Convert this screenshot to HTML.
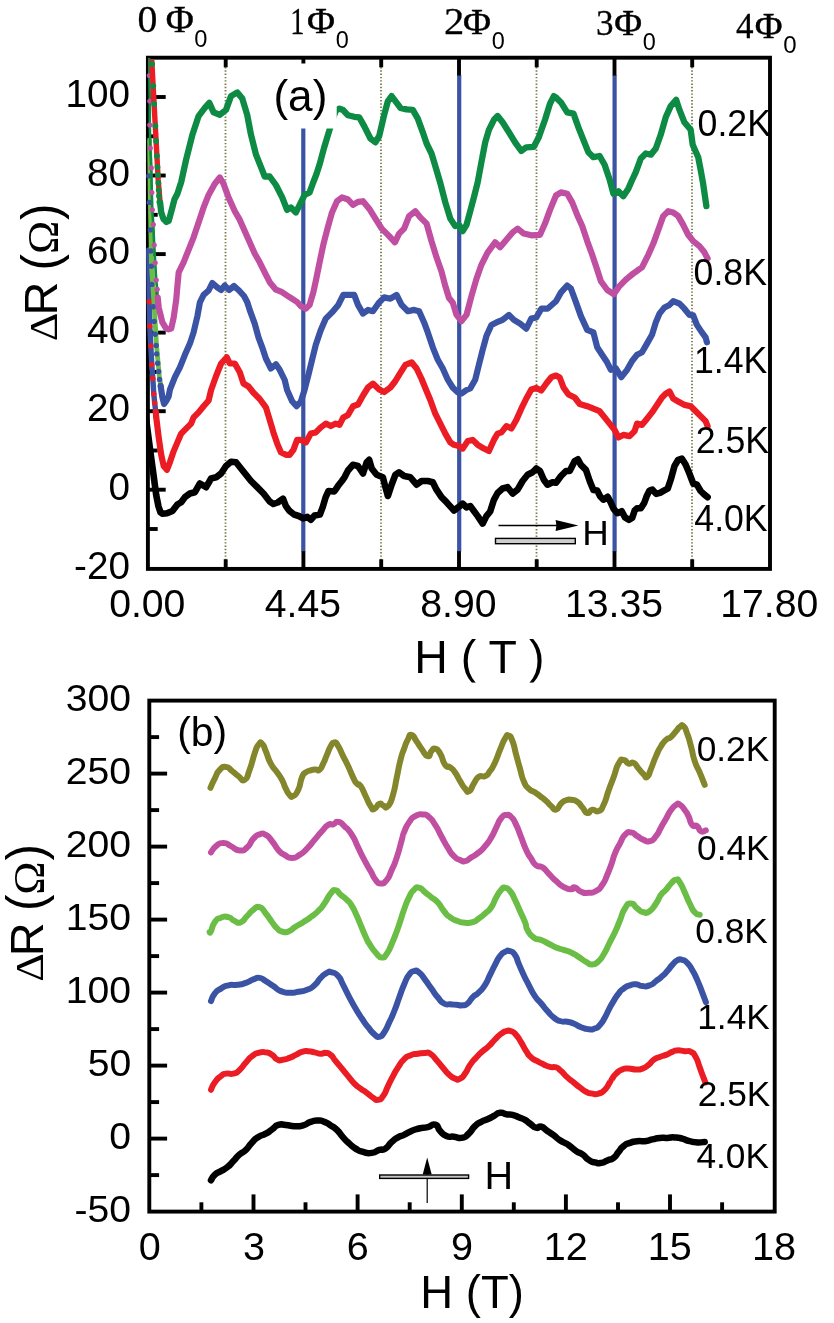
<!DOCTYPE html>
<html><head><meta charset="utf-8"><title>Magnetoresistance oscillations</title>
<style>html,body{margin:0;padding:0;background:#fff;width:834px;height:1323px;overflow:hidden;}svg{display:block;will-change:transform;}text{font-family:"Liberation Sans",sans-serif;fill:#000;}.se{font-family:"Liberation Serif",serif;}.sd{font-family:"Liberation Serif",serif;stroke:#000;stroke-width:0.3;}.ph{font-family:"Liberation Serif",serif;stroke:#000;stroke-width:0.45;}.cv{fill:none;stroke-linejoin:round;stroke-linecap:round;}.ax{stroke:#000;fill:none;}</style></head><body>
<svg width="834" height="1323" viewBox="0 0 834 1323">
<g stroke="#7a7a4c" stroke-width="1.8" stroke-dasharray="1.4 1.9" fill="none">
<line x1="225.5" y1="67" x2="225.5" y2="560"/>
<line x1="381.0" y1="67" x2="381.0" y2="560"/>
<line x1="536.5" y1="67" x2="536.5" y2="560"/>
<line x1="692.0" y1="67" x2="692.0" y2="560"/>
</g>
<g stroke="#3a53a4" stroke-width="4.2">
<line x1="303.3" y1="75" x2="303.3" y2="551.5"/>
<line x1="459.2" y1="75" x2="459.2" y2="551.5"/>
<line x1="614.6" y1="75" x2="614.6" y2="551.5"/>
</g>
<g class="ax" stroke-width="3.9" stroke-linecap="butt">
<rect x="147.9" y="57.7" width="622.1" height="511.2"/>
<line x1="303.4" y1="57.7" x2="303.4" y2="75.5" stroke-width="3.9"/>
<line x1="303.4" y1="568.9" x2="303.4" y2="551.1" stroke-width="3.9"/>
<line x1="459.0" y1="57.7" x2="459.0" y2="75.5" stroke-width="3.9"/>
<line x1="459.0" y1="568.9" x2="459.0" y2="551.1" stroke-width="3.9"/>
<line x1="614.5" y1="57.7" x2="614.5" y2="75.5" stroke-width="3.9"/>
<line x1="614.5" y1="568.9" x2="614.5" y2="551.1" stroke-width="3.9"/>
<line x1="225.7" y1="57.7" x2="225.7" y2="67.3" stroke-width="3.9"/>
<line x1="225.7" y1="568.9" x2="225.7" y2="559.3" stroke-width="3.9"/>
<line x1="381.2" y1="57.7" x2="381.2" y2="67.3" stroke-width="3.9"/>
<line x1="381.2" y1="568.9" x2="381.2" y2="559.3" stroke-width="3.9"/>
<line x1="536.7" y1="57.7" x2="536.7" y2="67.3" stroke-width="3.9"/>
<line x1="536.7" y1="568.9" x2="536.7" y2="559.3" stroke-width="3.9"/>
<line x1="692.2" y1="57.7" x2="692.2" y2="67.3" stroke-width="3.9"/>
<line x1="692.2" y1="568.9" x2="692.2" y2="559.3" stroke-width="3.9"/>
<line x1="147.9" y1="529.0" x2="157.70000000000002" y2="529.0" stroke-width="3.9"/>
<line x1="147.9" y1="489.7" x2="165.70000000000002" y2="489.7" stroke-width="3.9"/>
<line x1="147.9" y1="450.5" x2="157.70000000000002" y2="450.5" stroke-width="3.9"/>
<line x1="147.9" y1="411.2" x2="165.70000000000002" y2="411.2" stroke-width="3.9"/>
<line x1="147.9" y1="371.9" x2="157.70000000000002" y2="371.9" stroke-width="3.9"/>
<line x1="147.9" y1="332.6" x2="165.70000000000002" y2="332.6" stroke-width="3.9"/>
<line x1="147.9" y1="293.4" x2="157.70000000000002" y2="293.4" stroke-width="3.9"/>
<line x1="147.9" y1="254.1" x2="165.70000000000002" y2="254.1" stroke-width="3.9"/>
<line x1="147.9" y1="214.8" x2="157.70000000000002" y2="214.8" stroke-width="3.9"/>
<line x1="147.9" y1="175.5" x2="165.70000000000002" y2="175.5" stroke-width="3.9"/>
<line x1="147.9" y1="136.3" x2="157.70000000000002" y2="136.3" stroke-width="3.9"/>
<line x1="147.9" y1="97.0" x2="165.70000000000002" y2="97.0" stroke-width="3.9"/>
</g>
<clipPath id="cpa"><rect x="146.1" y="55.9" width="625.8" height="515"/></clipPath><g clip-path="url(#cpa)">
<polyline class="cv" stroke="#000" stroke-width="6.6" points="143.5,400.0 145.0,411.0 147.5,430.0 150.8,455.0 153.4,474.0 156.2,495.0 158.5,506.5 160.5,512.3 162.6,513.8 167.0,513.3 172.4,511.0 177.4,504.5 181.2,502.2 184.9,497.2 189.9,493.5 194.9,492.2 199.9,483.5 206.1,487.2 211.1,478.5 216.1,477.3 221.1,473.5 226.0,466.0 231.0,461.8 236.0,462.3 241.0,468.5 246.0,474.8 251.0,481.0 257.2,487.2 263.5,493.5 269.7,501.5 273.4,504.0 277.7,502.5 283.0,498.7 285.8,505.9 289.2,510.7 294.0,514.5 298.8,516.0 303.1,518.4 307.4,516.9 310.8,519.8 314.6,515.5 319.9,514.5 322.8,506.9 325.6,497.3 328.5,491.0 334.3,491.5 338.1,485.8 341.9,481.0 344.5,477.3 348.0,470.5 353.0,464.8 358.0,466.0 363.0,473.5 366.7,462.3 369.2,459.8 371.7,468.5 376.7,474.8 382.9,477.3 385.4,487.2 387.9,496.0 391.6,484.7 395.4,474.8 399.1,472.3 404.1,476.0 410.4,477.3 416.6,484.7 421.6,481.0 427.8,481.0 432.8,482.2 436.5,489.7 441.5,497.2 446.5,502.2 449.0,504.9 454.0,510.5 459.0,506.7 462.7,503.6 466.5,507.3 470.2,506.0 473.9,511.0 477.7,516.1 482.7,523.6 486.4,516.1 490.2,511.5 493.9,499.8 497.6,493.0 502.6,488.5 507.6,487.2 512.6,493.5 517.6,489.7 522.6,481.0 527.6,474.8 532.6,472.3 536.3,468.5 540.0,471.0 543.8,479.8 547.5,484.7 552.5,482.2 556.0,482.8 561.0,476.0 566.0,471.0 569.7,471.0 574.7,461.1 577.9,459.3 580.9,464.8 585.9,469.8 589.7,481.0 593.4,490.1 597.2,490.6 600.1,496.3 603.4,499.7 607.7,496.8 610.6,502.1 613.5,508.8 617.3,513.1 621.7,511.2 625.0,517.4 628.8,519.8 632.2,517.9 634.6,510.7 637.0,508.3 640.8,508.3 644.2,503.0 646.6,496.3 649.5,490.6 652.4,489.6 656.2,493.9 660.0,492.9 663.9,490.6 667.7,488.6 670.7,479.8 674.5,466.0 678.2,459.8 681.9,458.6 685.7,464.8 689.4,473.5 693.2,483.5 696.9,484.7 700.6,491.0 704.4,494.7 707.6,497.2"/>
<polyline class="cv" stroke="#3a53a4" stroke-width="5.4" points="148.8,250.0 149.3,301.8 149.8,326.3 150.8,346.0 151.8,364.7 152.8,378.4 153.8,394.1 154.7,403.0 155.7,411.8 156.2,417.0"/>
<circle cx="149.3" cy="301.8" r="2.7" fill="#ec1c24"/>
<circle cx="149.8" cy="326.3" r="2.7" fill="#ec1c24"/>
<circle cx="150.8" cy="346" r="2.7" fill="#ec1c24"/>
<circle cx="151.8" cy="364.7" r="2.7" fill="#ec1c24"/>
<circle cx="152.8" cy="378.4" r="2.7" fill="#ec1c24"/>
<circle cx="153.8" cy="394.1" r="2.7" fill="#ec1c24"/>
<circle cx="154.7" cy="403" r="2.7" fill="#ec1c24"/>
<circle cx="155.7" cy="411.8" r="2.7" fill="#ec1c24"/>
<circle cx="156.2" cy="417" r="2.7" fill="#ec1c24"/>
<polyline class="cv" stroke="#ec1c24" stroke-width="6.2" points="155.7,411.8 156.2,417.0 158.7,437.4 161.2,454.8 163.7,466.0 166.9,469.8 169.9,462.3 173.7,451.1 177.4,442.4 181.2,433.6 186.1,428.6 191.1,423.6 193.6,417.4 198.6,412.4 203.6,406.2 208.6,400.5 211.1,390.0 216.1,376.0 221.1,363.5 226.8,357.3 229.8,363.5 234.8,363.5 239.8,372.3 243.5,383.5 248.5,386.5 253.5,392.8 259.7,399.0 265.9,407.4 269.7,419.9 273.4,432.4 277.2,443.6 280.9,452.3 285.9,454.8 289.6,454.8 293.4,449.8 297.1,439.9 300.9,439.9 305.9,442.4 310.8,433.6 315.8,432.4 320.8,427.4 325.8,423.6 330.8,426.1 335.8,423.6 339.5,424.9 343.3,417.4 348.0,414.9 353.0,406.2 358.0,404.5 363.0,395.5 368.0,387.5 372.9,383.6 379.2,389.5 384.2,392.0 390.4,387.5 395.4,381.0 399.1,374.8 405.4,364.8 411.6,362.3 416.6,368.5 421.6,379.0 425.3,388.0 430.3,400.0 435.3,413.7 440.3,423.6 445.3,433.6 450.3,442.4 454.0,444.8 459.0,446.1 462.7,448.6 467.7,441.1 472.7,439.9 477.7,444.8 483.9,448.6 488.9,451.1 493.9,439.9 497.6,433.6 501.4,432.4 506.4,426.1 511.4,428.6 516.3,419.9 521.3,408.7 526.3,398.5 531.3,389.5 536.3,388.0 541.3,390.5 546.3,383.5 551.3,377.2 556.0,375.5 559.7,377.5 563.5,387.5 568.5,394.5 574.7,397.5 579.7,404.0 587.2,406.2 593.4,408.7 599.6,411.2 604.6,417.4 609.6,423.6 614.6,429.9 618.4,437.4 623.3,434.9 629.6,436.1 634.6,431.1 637.1,423.6 642.0,424.9 647.0,418.7 652.0,412.4 657.0,405.0 662.0,397.5 665.7,393.7 669.5,391.5 673.2,398.6 678.2,401.5 684.4,404.9 690.7,406.2 695.7,411.2 700.6,416.2 705.6,421.1 707.6,426.1"/>
<polyline class="cv" stroke="#6abd45" stroke-width="4.8" points="149.6,140.0 150.3,200.0 151.5,266.0 153.8,300.0 156.5,345.0 159.6,379.4 161.6,388.2"/>
<circle cx="148.8" cy="175.9" r="2.7" fill="#3a53a4"/>
<circle cx="149.3" cy="202.4" r="2.7" fill="#3a53a4"/>
<circle cx="150.3" cy="229.9" r="2.7" fill="#3a53a4"/>
<circle cx="150.8" cy="251" r="2.7" fill="#3a53a4"/>
<circle cx="151.3" cy="266.3" r="2.7" fill="#3a53a4"/>
<circle cx="151.8" cy="284.4" r="2.7" fill="#3a53a4"/>
<circle cx="153.3" cy="306.7" r="2.7" fill="#3a53a4"/>
<circle cx="154.2" cy="321.4" r="2.7" fill="#3a53a4"/>
<circle cx="155.2" cy="334.2" r="2.7" fill="#3a53a4"/>
<circle cx="156.2" cy="345.5" r="2.7" fill="#3a53a4"/>
<circle cx="156.7" cy="353.9" r="2.7" fill="#3a53a4"/>
<circle cx="157.7" cy="363.2" r="2.7" fill="#3a53a4"/>
<circle cx="158.7" cy="371.5" r="2.7" fill="#3a53a4"/>
<circle cx="159.6" cy="379.4" r="2.7" fill="#3a53a4"/>
<circle cx="160.6" cy="385.8" r="2.7" fill="#3a53a4"/>
<polyline class="cv" stroke="#3a53a4" stroke-width="6.2" points="160.6,385.8 162.4,397.2 164.1,404.0 166.2,401.0 168.7,396.2 169.9,389.7 174.9,377.2 179.9,367.3 184.9,354.8 189.9,343.6 193.6,332.4 197.4,316.1 199.9,302.4 203.6,294.9 208.6,290.5 212.3,283.0 217.3,287.4 221.1,290.0 224.8,285.5 229.0,290.0 234.0,286.0 239.0,290.5 244.0,296.0 247.2,302.0 249.7,309.9 254.7,323.6 258.5,337.3 262.2,347.3 265.9,358.5 270.9,368.5 275.9,364.3 279.7,369.8 284.7,380.0 287.1,390.0 292.1,401.2 296.6,406.2 300.9,401.5 304.6,389.8 308.4,375.0 312.1,359.8 315.8,344.8 320.8,329.9 325.8,318.6 332.0,312.4 338.3,304.9 343.3,294.9 348.0,294.9 354.2,294.9 358.0,304.9 363.0,313.6 368.0,309.9 372.9,311.2 379.2,302.4 384.2,297.4 390.4,298.7 396.6,294.9 401.6,304.9 407.9,311.2 414.1,309.9 419.1,311.2 424.1,322.4 427.8,332.4 432.8,347.3 437.8,359.8 442.8,368.5 447.8,379.7 452.7,387.5 457.7,392.3 461.5,393.5 466.5,390.0 470.2,388.5 475.2,379.7 478.9,364.8 482.7,349.8 486.4,336.1 491.4,324.9 496.4,322.4 502.6,319.9 508.9,314.9 513.9,319.9 520.1,323.6 526.3,328.6 531.3,318.6 536.3,317.4 541.3,308.7 547.5,308.7 556.0,301.2 561.0,292.4 567.2,285.5 571.0,288.7 576.0,302.4 580.9,316.1 587.2,329.9 593.4,332.4 597.2,347.3 602.1,354.8 607.1,362.3 610.9,369.8 615.9,368.5 621.3,377.2 627.1,369.8 632.1,361.0 637.1,354.8 642.0,352.3 647.0,343.6 652.0,334.8 655.8,322.4 659.5,313.6 664.5,307.4 669.5,304.9 673.2,301.2 679.5,303.7 684.4,308.7 689.4,314.9 693.2,315.4 696.9,324.9 701.9,332.4 705.6,337.3 706.9,342.3"/>
<polyline class="cv" stroke="#0d8a43" stroke-width="2.6" points="149.2,59.0 149.3,75.5 149.8,101.0 149.8,125.0 150.3,148.0 151.3,167.9 151.8,192.6 152.3,209.8 153.3,224.5 154.2,245.1 155.2,262.8 156.2,280.0 157.2,289.3 157.7,297.7"/>
<circle cx="149.3" cy="75.5" r="2.6" fill="#c04fa2"/>
<circle cx="149.8" cy="101" r="2.6" fill="#c04fa2"/>
<circle cx="149.8" cy="125" r="2.6" fill="#c04fa2"/>
<circle cx="150.3" cy="148" r="2.6" fill="#c04fa2"/>
<circle cx="151.3" cy="167.9" r="2.6" fill="#c04fa2"/>
<circle cx="151.8" cy="192.6" r="2.6" fill="#c04fa2"/>
<circle cx="152.3" cy="209.8" r="2.6" fill="#c04fa2"/>
<circle cx="153.3" cy="224.5" r="2.6" fill="#c04fa2"/>
<circle cx="154.2" cy="245.1" r="2.6" fill="#c04fa2"/>
<circle cx="155.2" cy="262.8" r="2.6" fill="#c04fa2"/>
<circle cx="156.2" cy="280" r="2.6" fill="#c04fa2"/>
<circle cx="157.2" cy="289.3" r="2.6" fill="#c04fa2"/>
<circle cx="157.7" cy="297.7" r="2.6" fill="#c04fa2"/>
<polyline class="cv" stroke="#c04fa2" stroke-width="6.2" points="157.7,297.7 158.7,307.4 162.4,322.4 166.2,328.6 168.5,329.3 171.2,328.6 173.7,317.4 176.2,299.9 177.4,286.0 178.7,272.3 183.6,262.3 188.6,249.8 193.6,237.3 198.6,222.4 203.6,207.4 208.6,194.9 214.8,183.7 219.8,177.5 223.5,183.7 228.5,197.4 234.8,211.2 239.8,219.9 244.7,231.1 249.7,242.3 254.7,253.5 259.7,262.3 264.7,272.3 269.7,282.2 275.9,289.7 282.2,292.2 289.6,297.2 297.1,302.0 300.9,306.2 305.9,308.7 309.6,304.9 313.3,292.4 315.8,281.0 319.6,262.3 323.3,244.8 327.1,229.9 332.0,212.4 337.0,201.2 342.0,197.4 348.0,199.5 353.0,204.9 358.0,201.9 363.0,201.2 369.2,208.7 375.4,218.6 381.7,228.6 389.2,236.1 394.9,242.3 399.1,233.6 404.1,228.6 409.1,216.1 415.3,211.2 420.3,217.4 426.6,223.6 431.5,241.1 436.5,257.3 441.5,271.5 445.3,286.0 449.0,298.0 452.7,302.4 456.5,314.9 461.5,321.1 466.5,314.9 471.5,296.0 476.4,279.0 481.4,264.8 487.7,252.3 495.1,242.3 500.1,247.3 506.4,239.8 512.6,232.4 517.6,228.6 523.8,233.6 531.3,235.3 540.0,234.8 545.0,223.6 550.0,209.9 556.0,195.5 561.0,192.4 567.2,193.7 572.2,202.4 577.2,214.9 582.2,226.1 587.2,241.1 592.2,254.8 597.2,269.8 600.9,281.2 607.1,289.8 613.7,294.2 619.0,286.7 625.8,279.7 633.3,273.5 642.0,267.3 648.3,254.8 653.3,243.6 658.3,229.9 663.2,216.1 668.2,211.2 673.2,212.4 678.2,216.1 683.2,224.9 688.2,234.8 693.2,241.1 699.4,246.1 704.4,252.3 707.6,258.5"/>
<polyline fill="none" stroke="#ec1c24" stroke-width="5.4" points="151.7,59.5 158.2,180.0 160.1,202.4"/>
<circle cx="152.1" cy="64" r="2.9" fill="#0d8a43"/>
<circle cx="153.3" cy="86" r="2.9" fill="#0d8a43"/>
<circle cx="154.2" cy="104" r="2.9" fill="#0d8a43"/>
<circle cx="155.4" cy="126" r="2.9" fill="#0d8a43"/>
<circle cx="156.1" cy="141" r="2.9" fill="#0d8a43"/>
<circle cx="156.9" cy="156" r="2.9" fill="#0d8a43"/>
<circle cx="157.5" cy="167" r="2.9" fill="#0d8a43"/>
<circle cx="157.9" cy="175" r="2.9" fill="#0d8a43"/>
<circle cx="158.4" cy="183" r="2.9" fill="#0d8a43"/>
<circle cx="158.7" cy="190" r="2.9" fill="#0d8a43"/>
<circle cx="159.0" cy="196" r="2.9" fill="#0d8a43"/>
<circle cx="159.4" cy="202" r="2.9" fill="#0d8a43"/>
<polyline class="cv" stroke="#0d8a43" stroke-width="6.3" points="160.1,202.4 161.2,212.4 163.5,219.0 166.5,222.0 168.7,221.0 172.4,207.4 174.4,199.5 177.4,193.7 181.2,182.0 186.1,159.7 192.4,134.8 198.6,116.1 204.8,107.9 209.3,102.9 213.6,112.4 219.8,114.8 226.0,109.9 231.0,96.1 237.3,92.4 242.3,98.6 247.2,114.8 251.0,134.8 256.0,154.7 261.0,167.2 264.7,176.5 269.7,176.5 275.9,185.0 282.2,197.4 287.1,209.9 290.9,207.4 295.9,212.4 300.9,202.4 304.6,194.9 309.6,192.4 313.0,183.0 316.5,174.0 320.0,163.0 324.0,148.0 329.5,129.8 333.0,118.0 336.0,110.5 339.5,108.6 343.0,110.0 348.0,115.3 354.2,116.8 359.2,117.3 364.2,126.1 370.4,138.5 375.4,142.3 379.2,136.0 384.2,114.8 387.9,101.1 391.6,96.1 395.4,101.1 400.4,107.9 406.6,109.4 412.8,109.9 417.8,118.6 422.8,132.3 426.6,143.5 431.5,153.5 435.3,166.0 440.3,183.0 445.3,202.4 450.3,218.6 455.2,226.1 459.0,224.9 462.7,231.1 466.5,224.9 470.2,211.2 473.9,197.4 477.7,182.3 481.4,162.2 485.2,142.3 488.9,129.8 493.9,119.8 497.6,116.1 502.6,122.3 508.9,132.3 515.1,142.3 521.3,151.0 526.3,147.3 533.8,146.8 538.8,137.3 545.0,119.8 550.0,103.6 553.8,96.1 556.0,97.4 561.0,102.4 567.2,112.3 573.5,113.6 578.4,127.3 583.4,139.8 588.4,152.3 593.4,157.2 599.6,156.0 604.6,164.7 609.6,179.5 613.4,193.7 618.4,191.2 623.3,196.2 628.3,188.7 632.1,180.0 635.8,172.2 640.8,158.5 645.8,153.5 650.8,154.7 655.8,148.5 660.7,134.8 665.7,117.3 670.7,106.1 676.2,99.9 679.5,109.9 684.4,122.3 690.7,129.8 692.7,144.8 698.2,157.2 700.6,169.7 703.1,183.5 706.4,206.2"/>
</g>
<rect x="264.5" y="63.5" width="72.2" height="65" fill="#fff"/>
<text transform="translate(273.44,110.91) scale(0.9955,1)" font-size="44.29">(a)</text>
<text transform="translate(74.11,578.52) scale(1.0182,1)" font-size="38.02">-20</text>
<text transform="translate(108.57,499.97) scale(1.0182,1)" font-size="38.02">0</text>
<text transform="translate(87.08,421.42) scale(1.0182,1)" font-size="38.02">20</text>
<text transform="translate(87.08,342.87) scale(1.0182,1)" font-size="38.02">40</text>
<text transform="translate(87.08,264.32) scale(1.0182,1)" font-size="38.02">60</text>
<text transform="translate(87.08,185.77) scale(1.0182,1)" font-size="38.02">80</text>
<text transform="translate(65.50,107.22) scale(1.0182,1)" font-size="38.02">100</text>
<text transform="translate(109.13,616.62) scale(1.0309,1)" font-size="38.02">0.00</text>
<text transform="translate(264.82,616.62) scale(1.0309,1)" font-size="38.02">4.45</text>
<text transform="translate(420.28,616.62) scale(1.0309,1)" font-size="38.02">8.90</text>
<text transform="translate(564.97,616.62) scale(1.0309,1)" font-size="38.02">13.35</text>
<text transform="translate(720.22,616.62) scale(1.0309,1)" font-size="38.02">17.80</text>
<text transform="translate(414.36,672.52) scale(1.0184,1)" font-size="45.68">H ( T )</text>
<text transform="translate(697.57,135.64) scale(0.9817,1)" font-size="36.33">0.2K</text>
<text transform="translate(693.57,284.84) scale(0.9817,1)" font-size="36.33">0.8K</text>
<text transform="translate(694.03,372.90) scale(0.9817,1)" font-size="36.33">1.4K</text>
<text transform="translate(695.72,452.64) scale(0.9817,1)" font-size="36.33">2.5K</text>
<text transform="translate(694.30,531.24) scale(0.9817,1)" font-size="36.33">4.0K</text>
<text class="sd" transform="translate(137.51,31.93) scale(1.0609,1)" font-size="37.48">0</text>
<text class="ph" transform="translate(165.85,31.50) scale(1.0382,1)" font-size="36.95">Φ</text>
<text transform="translate(194.25,46.87) scale(1.0272,1)" font-size="23.04">0</text>
<text class="sd" transform="translate(290.22,33.50) scale(0.7611,1)" font-size="37.27">1</text>
<text class="ph" transform="translate(306.95,33.20) scale(1.0469,1)" font-size="36.64">Φ</text>
<text transform="translate(335.66,48.36) scale(0.9878,1)" font-size="23.75">0</text>
<text class="sd" transform="translate(444.08,33.90) scale(1.0862,1)" font-size="37.28">2</text>
<text class="ph" transform="translate(462.95,33.60) scale(1.0557,1)" font-size="36.34">Φ</text>
<text transform="translate(491.66,48.77) scale(1.0057,1)" font-size="23.32">0</text>
<text class="sd" transform="translate(595.93,35.43) scale(0.9610,1)" font-size="36.58">3</text>
<text class="ph" transform="translate(614.16,35.30) scale(1.0474,1)" font-size="36.34">Φ</text>
<text transform="translate(642.66,50.47) scale(1.0057,1)" font-size="23.32">0</text>
<text class="sd" transform="translate(736.00,37.90) scale(0.9563,1)" font-size="36.65">4</text>
<text class="ph" transform="translate(754.86,38.20) scale(1.0387,1)" font-size="36.64">Φ</text>
<text transform="translate(783.24,53.37) scale(1.0454,1)" font-size="23.04">0</text>
<g transform="rotate(-90)">
<text class="se" transform="translate(-341.27,57.40) scale(1.0898,1)" font-size="40.91">Δ</text>
<text transform="translate(-315.57,57.40) scale(1.0018,1)" font-size="46.84">R</text>
<text transform="translate(-270.49,57.86) scale(0.9466,1)" font-size="52.23">(</text>
<text class="se" transform="translate(-254.05,58.30) scale(1.0352,1)" font-size="43.32">Ω</text>
<text transform="translate(-219.97,57.86) scale(0.9466,1)" font-size="52.23">)</text>
</g>
<line x1="498.5" y1="525.5" x2="560" y2="525.5" stroke="#000" stroke-width="1.7"/>
<path d="M578.4 525.5 L555.6 519.9 L556.4 525.5 L555.6 531.1 Z" fill="#000"/>
<rect x="495.5" y="538.4" width="79.8" height="5.3" fill="#cdcdcd" stroke="#000" stroke-width="1.4"/>
<text transform="translate(582.37,544.80) scale(1.0235,1)" font-size="35.93">H</text>
<path class="cv" stroke="#000" stroke-width="6.5" d="M211.0 1180.3C212.2 1178.5 211.4 1177.9 214.7 1174.8C218.0 1171.7 216.7 1173.6 220.9 1171.1C225.1 1168.6 223.0 1170.6 227.2 1167.3C231.4 1164.0 229.3 1165.4 233.4 1161.1C237.5 1156.8 235.4 1158.1 239.6 1154.4C243.8 1150.7 241.7 1153.9 245.9 1149.9C250.1 1145.9 247.9 1146.7 252.1 1142.4C256.3 1138.1 253.8 1139.8 258.4 1136.9C263.0 1134.0 261.2 1136.2 265.8 1133.7C270.4 1131.2 267.9 1132.3 272.1 1129.4C276.3 1126.5 273.7 1126.4 278.3 1124.9C282.9 1123.4 280.4 1124.5 285.8 1124.9C291.2 1125.3 288.7 1126.0 294.5 1126.2C300.3 1126.4 297.8 1126.8 303.2 1125.4C308.6 1124.0 305.7 1123.5 310.7 1121.9C315.7 1120.3 313.6 1120.5 318.2 1120.5C322.8 1120.5 320.2 1120.3 324.4 1121.9C328.6 1123.5 326.5 1122.7 330.7 1125.4C334.9 1128.1 332.8 1125.9 336.9 1129.9C341.0 1133.9 338.9 1132.8 343.1 1137.4C347.3 1142.0 345.2 1139.9 349.4 1143.6C353.6 1147.3 351.0 1145.8 355.6 1148.6C360.2 1151.4 357.7 1150.5 363.1 1151.9C368.5 1153.3 366.4 1153.6 371.8 1152.9C377.2 1152.2 374.7 1151.3 379.3 1149.9C383.9 1148.5 381.3 1151.3 385.5 1148.6C389.7 1145.9 387.6 1145.6 391.8 1141.9C396.0 1138.2 393.9 1139.7 398.0 1137.4C402.1 1135.1 399.5 1137.0 404.0 1134.9C408.5 1132.8 406.5 1133.1 411.5 1131.0C416.5 1128.9 413.6 1129.8 419.0 1128.5C424.4 1127.2 422.3 1128.5 427.7 1127.2C433.1 1125.9 431.0 1123.4 435.2 1124.7C439.4 1126.0 436.5 1127.2 440.2 1131.0C443.9 1134.8 441.8 1134.1 446.4 1136.0C451.0 1137.9 448.5 1136.1 453.9 1136.7C459.3 1137.3 457.6 1138.8 462.6 1137.7C467.6 1136.6 464.6 1137.4 468.8 1133.5C473.0 1129.6 470.9 1129.9 475.1 1126.0C479.3 1122.1 477.2 1124.0 481.3 1121.8C485.4 1119.6 483.3 1121.2 487.5 1119.3C491.7 1117.4 489.6 1118.2 493.8 1116.0C498.0 1113.8 495.8 1113.4 500.0 1112.8C504.2 1112.2 502.1 1113.6 506.3 1114.3C510.5 1115.0 508.4 1113.8 512.5 1114.8C516.6 1115.8 514.5 1115.6 518.7 1117.3C522.9 1119.0 521.3 1117.7 525.0 1119.8C528.7 1121.9 526.2 1120.9 529.9 1123.5C533.6 1126.1 532.4 1126.6 536.2 1127.7C540.0 1128.8 537.5 1125.6 541.2 1126.7C544.9 1127.8 543.3 1128.2 547.4 1131.0C551.5 1133.8 549.4 1132.1 553.6 1135.2C557.8 1138.3 555.7 1137.4 559.9 1140.2C564.1 1143.0 562.7 1141.5 566.1 1143.5C569.5 1145.5 566.6 1143.6 570.0 1146.1C573.4 1148.6 572.0 1148.3 576.2 1151.1C580.4 1153.9 578.3 1151.5 582.5 1154.4C586.7 1157.3 584.6 1157.2 588.7 1159.9C592.8 1162.6 590.7 1161.4 594.9 1162.4C599.1 1163.4 597.0 1163.6 601.2 1162.9C605.4 1162.2 603.3 1162.1 607.4 1160.4C611.5 1158.7 609.9 1160.7 613.6 1157.9C617.3 1155.1 615.3 1155.8 618.6 1151.9C621.9 1148.0 619.8 1149.1 623.6 1146.1C627.4 1143.1 625.3 1144.5 629.9 1142.9C634.5 1141.3 632.3 1141.8 637.3 1141.2C642.3 1140.6 639.8 1141.8 644.8 1141.2C649.8 1140.6 647.3 1140.5 652.3 1139.4C657.3 1138.3 654.8 1138.4 659.8 1137.9C664.8 1137.4 662.3 1138.1 667.3 1137.9C672.3 1137.7 669.7 1137.1 674.7 1137.4C679.7 1137.7 677.2 1137.4 682.2 1138.7C687.2 1140.0 684.7 1140.0 689.7 1141.2C694.7 1142.4 692.2 1142.2 697.2 1142.4C702.2 1142.6 702.2 1142.1 704.7 1141.9"/>
<path class="cv" stroke="#ec1c24" stroke-width="6.0" d="M211.0 1089.8C212.2 1087.3 211.4 1087.0 214.7 1082.4C218.0 1077.8 217.2 1079.0 220.9 1076.1C224.6 1073.2 221.7 1074.4 225.9 1073.6C230.1 1072.8 228.8 1074.8 233.4 1073.6C238.0 1072.4 235.4 1073.6 239.6 1069.9C243.8 1066.2 241.7 1067.0 245.9 1062.4C250.1 1057.8 247.9 1059.4 252.1 1056.2C256.3 1053.0 253.8 1054.2 258.4 1052.9C263.0 1051.6 261.2 1051.7 265.8 1052.4C270.4 1053.1 268.3 1052.6 272.1 1054.9C275.9 1057.2 273.8 1057.7 277.1 1059.4C280.4 1061.1 277.9 1060.4 282.0 1059.9C286.1 1059.4 284.9 1059.6 289.5 1057.9C294.1 1056.2 291.6 1056.9 295.8 1054.9C300.0 1052.9 297.9 1053.1 302.0 1051.9C306.1 1050.7 304.0 1051.0 308.2 1051.2C312.4 1051.4 310.3 1051.6 314.5 1052.4C318.7 1053.2 317.0 1053.5 320.7 1053.7C324.4 1053.9 322.4 1052.5 325.7 1052.9C329.0 1053.3 327.4 1052.1 330.7 1054.9C334.0 1057.7 332.0 1056.6 335.7 1061.2C339.4 1065.8 337.8 1063.6 341.9 1068.6C346.0 1073.6 343.9 1071.1 348.1 1076.1C352.3 1081.1 350.2 1079.4 354.4 1083.6C358.6 1087.8 356.5 1085.5 360.6 1088.6C364.7 1091.7 362.6 1089.7 366.8 1092.8C371.0 1095.9 369.3 1095.5 373.1 1097.8C376.9 1100.1 374.8 1100.4 378.1 1099.8C381.4 1099.2 379.8 1100.7 383.1 1096.1C386.4 1091.5 384.7 1092.8 388.0 1086.1C391.3 1079.4 389.7 1082.3 393.0 1076.1C396.3 1069.9 394.3 1073.0 398.0 1067.4C401.7 1061.8 399.9 1063.3 404.0 1059.3C408.1 1055.3 405.6 1057.3 410.2 1055.4C414.8 1053.5 412.7 1054.5 417.7 1053.7C422.7 1052.9 421.0 1052.9 425.2 1052.9C429.4 1052.9 426.5 1051.4 430.2 1053.7C433.9 1056.0 432.2 1055.3 436.4 1059.9C440.6 1064.5 438.5 1062.6 442.7 1067.4C446.9 1072.2 444.8 1070.7 448.9 1074.4C453.0 1078.1 451.4 1077.2 455.1 1078.6C458.8 1080.0 456.8 1080.3 460.1 1078.6C463.4 1076.9 461.8 1078.2 465.1 1073.6C468.4 1069.0 466.4 1070.3 470.1 1064.9C473.8 1059.5 472.1 1062.0 476.3 1057.4C480.5 1052.8 478.4 1054.9 482.6 1051.2C486.8 1047.5 484.7 1050.1 488.8 1046.2C492.9 1042.3 490.8 1043.7 495.0 1039.5C499.2 1035.3 497.5 1036.5 501.3 1033.7C505.1 1030.9 503.0 1032.0 506.3 1031.2C509.6 1030.4 507.9 1029.9 511.2 1031.2C514.5 1032.5 512.9 1031.3 516.2 1035.0C519.5 1038.7 517.9 1037.0 521.2 1042.4C524.5 1047.8 522.9 1046.2 526.2 1051.2C529.5 1056.2 527.5 1054.1 531.2 1057.4C534.9 1060.7 533.2 1058.9 537.4 1061.2C541.6 1063.5 539.5 1062.5 543.7 1064.4C547.9 1066.3 545.8 1065.9 549.9 1066.9C554.0 1067.9 552.4 1066.0 556.1 1067.4C559.8 1068.8 557.3 1067.8 561.1 1071.1C564.9 1074.4 563.2 1073.6 567.4 1077.4C571.6 1081.2 569.5 1079.1 573.6 1082.4C577.7 1085.7 575.6 1084.2 579.8 1087.3C584.0 1090.4 581.9 1089.7 586.1 1091.8C590.3 1093.9 588.2 1093.0 592.3 1093.6C596.4 1094.2 594.3 1094.9 598.5 1093.6C602.7 1092.3 601.0 1093.5 604.8 1089.8C608.6 1086.1 607.4 1086.0 609.8 1082.4C612.2 1078.8 609.9 1081.9 612.0 1079.0C614.1 1076.1 612.6 1076.8 616.1 1073.6C619.6 1070.4 618.2 1071.1 622.4 1069.4C626.6 1067.7 624.0 1068.6 628.6 1068.6C633.2 1068.6 631.5 1069.4 636.1 1069.4C640.7 1069.4 638.1 1070.1 642.3 1068.6C646.5 1067.1 644.8 1067.8 648.6 1064.9C652.4 1062.0 649.9 1062.6 653.6 1059.9C657.3 1057.2 655.7 1058.6 659.8 1056.9C663.9 1055.2 661.8 1056.6 666.0 1054.9C670.2 1053.2 668.6 1053.4 672.3 1051.9C676.0 1050.4 673.1 1050.6 677.2 1050.4C681.3 1050.2 680.1 1050.7 684.7 1051.2C689.3 1051.7 687.3 1049.8 691.0 1051.9C694.7 1054.0 693.0 1052.2 695.9 1057.4C698.8 1062.6 697.2 1060.7 699.7 1067.4C702.2 1074.1 701.5 1072.4 703.4 1077.4C705.3 1082.4 704.7 1080.7 705.4 1082.4"/>
<path class="cv" stroke="#3a53a4" stroke-width="6.0" d="M211.0 1001.1C212.2 998.6 211.4 997.8 214.7 993.6C218.0 989.4 216.3 991.4 220.9 988.6C225.5 985.8 223.0 986.6 228.4 985.3C233.8 984.0 231.4 985.6 237.2 984.8C243.0 984.0 240.5 984.6 245.9 982.8C251.3 981.0 248.8 981.0 253.4 979.4C258.0 977.8 255.5 977.3 259.6 977.9C263.7 978.5 261.2 978.4 265.8 981.1C270.4 983.8 268.3 982.8 273.3 986.1C278.3 989.4 275.4 988.9 280.8 991.1C286.2 993.3 283.7 992.6 289.5 992.8C295.3 993.0 292.5 992.8 298.3 991.8C304.1 990.8 301.6 992.0 307.0 989.8C312.4 987.6 309.9 989.3 314.5 985.3C319.1 981.3 316.6 982.0 320.7 977.9C324.8 973.8 323.2 974.7 326.9 972.9C330.6 971.1 328.1 971.3 331.9 972.4C335.7 973.5 334.5 972.0 338.2 976.1C341.9 980.2 339.4 977.7 343.1 984.8C346.8 991.9 345.2 989.4 349.4 997.3C353.6 1005.2 351.4 1001.4 355.6 1008.5C359.8 1015.6 357.7 1012.3 361.9 1018.5C366.1 1024.7 364.0 1022.0 368.1 1027.2C372.2 1032.4 370.6 1031.0 374.3 1034.2C378.0 1037.4 376.0 1037.4 379.3 1036.7C382.6 1036.0 381.0 1037.0 384.3 1032.2C387.6 1027.4 386.0 1029.4 389.3 1022.3C392.6 1015.2 391.0 1019.3 394.3 1011.0C397.6 1002.7 396.1 1006.0 399.3 997.3C402.5 988.6 400.8 992.3 404.0 984.8C407.2 977.3 405.7 979.5 409.0 974.9C412.3 970.3 410.7 971.9 414.0 971.1C417.3 970.3 415.3 969.5 419.0 972.4C422.7 975.3 421.1 974.5 425.2 979.9C429.3 985.3 427.2 982.8 431.4 988.6C435.6 994.4 433.5 992.3 437.7 997.3C441.9 1002.3 439.8 1001.2 443.9 1003.5C448.0 1005.8 445.9 1003.9 450.1 1004.3C454.3 1004.7 452.2 1004.5 456.4 1004.8C460.6 1005.1 458.9 1005.7 462.6 1005.3C466.3 1004.9 464.3 1006.2 467.6 1003.5C470.9 1000.8 468.9 1001.0 472.6 997.3C476.3 993.6 474.6 996.5 478.8 992.3C483.0 988.1 481.4 990.6 485.1 984.8C488.8 979.0 486.7 981.5 490.0 974.9C493.3 968.3 491.7 971.1 495.0 964.9C498.3 958.7 496.7 960.5 500.0 956.2C503.3 951.9 501.7 953.6 505.0 951.9C508.3 950.2 506.7 950.2 510.0 951.2C513.3 952.2 512.1 950.8 515.0 954.9C517.9 959.0 515.8 956.9 518.7 963.6C521.6 970.3 520.4 967.8 523.7 974.9C527.0 982.0 525.0 977.7 528.7 984.8C532.4 991.9 530.7 989.9 534.9 996.1C539.1 1002.3 537.0 998.5 541.2 1003.5C545.4 1008.5 543.3 1006.4 547.4 1011.0C551.5 1015.6 549.4 1014.0 553.6 1017.3C557.8 1020.6 555.3 1019.5 559.9 1021.0C564.5 1022.5 562.8 1021.0 567.4 1021.8C572.0 1022.6 569.0 1021.7 573.6 1023.5C578.2 1025.3 576.1 1025.3 581.1 1027.2C586.1 1029.1 584.0 1028.8 588.6 1029.2C593.2 1029.6 591.0 1029.9 594.8 1028.5C598.6 1027.1 596.5 1028.7 599.9 1025.0C603.3 1021.3 602.0 1022.6 604.9 1017.5C607.8 1012.4 605.8 1015.3 608.7 1009.8C611.6 1004.3 610.3 1006.5 613.6 1001.1C616.9 995.7 615.3 997.8 618.6 993.6C621.9 989.4 619.8 991.4 623.6 988.6C627.4 985.8 625.7 986.7 629.9 985.3C634.1 983.9 632.0 984.0 636.1 984.3C640.2 984.6 637.7 985.8 642.3 986.1C646.9 986.4 645.2 987.0 649.8 985.3C654.4 983.6 651.8 984.2 656.0 981.1C660.2 978.0 658.5 979.4 662.3 976.1C666.1 972.8 664.0 974.8 667.3 971.1C670.6 967.4 669.0 968.5 672.3 964.9C675.6 961.3 673.9 962.1 677.2 960.4C680.5 958.7 678.9 959.1 682.2 959.9C685.5 960.7 683.9 959.6 687.2 962.9C690.5 966.2 688.9 964.2 692.2 969.9C695.5 975.6 693.9 972.4 697.2 979.9C700.5 987.4 699.3 984.8 702.2 992.3C705.1 999.8 704.7 999.0 705.9 1002.3"/>
<path class="cv" stroke="#6abd45" stroke-width="6.0" d="M209.7 932.0C210.1 931.7 209.3 934.5 211.0 931.2C212.7 927.9 211.4 926.7 214.7 922.2C218.0 917.7 216.3 919.4 220.9 917.7C225.5 916.0 223.8 916.1 228.4 917.2C233.0 918.3 230.5 919.3 234.7 921.0C238.9 922.7 236.8 923.9 240.9 922.2C245.0 920.5 242.9 920.2 247.1 916.0C251.3 911.8 249.2 912.6 253.4 909.7C257.6 906.8 255.5 905.9 259.6 907.2C263.7 908.5 261.6 908.5 265.8 913.5C270.0 918.5 268.3 917.2 272.1 922.2C275.9 927.2 273.8 925.3 277.1 928.4C280.4 931.5 278.3 930.5 282.0 931.5C285.7 932.5 283.7 933.2 288.3 931.5C292.9 929.8 290.8 929.6 295.8 926.5C300.8 923.4 298.2 925.3 303.2 922.2C308.2 919.1 305.7 920.9 310.7 917.2C315.7 913.5 313.6 915.6 318.2 911.0C322.8 906.4 320.2 909.3 324.4 903.5C328.6 897.7 326.9 897.9 330.7 893.5C334.5 889.1 332.4 889.9 335.7 890.3C339.0 890.7 337.0 891.6 340.7 894.8C344.4 898.0 343.2 896.1 346.9 899.8C350.6 903.5 348.6 900.6 351.9 906.0C355.2 911.4 353.6 908.7 356.9 916.0C360.2 923.3 358.9 920.8 361.9 928.0C364.9 935.2 363.5 932.3 366.0 937.5C368.5 942.7 366.1 938.7 369.3 943.7C372.5 948.7 371.4 947.8 375.6 952.4C379.8 957.0 378.1 957.0 381.8 957.4C385.5 957.8 383.5 958.3 386.8 953.7C390.1 949.1 388.5 951.2 391.8 943.7C395.1 936.2 393.9 938.9 396.8 931.2C399.7 923.5 398.1 927.7 400.5 920.5C402.9 913.3 401.2 917.4 404.0 909.7C406.8 902.0 405.7 903.9 409.0 897.3C412.3 890.7 410.7 893.0 414.0 889.8C417.3 886.6 415.3 887.0 419.0 887.8C422.7 888.6 421.1 889.1 425.2 892.3C429.3 895.5 427.2 894.0 431.4 897.3C435.6 900.6 433.5 897.7 437.7 902.3C441.9 906.9 439.8 906.0 443.9 911.0C448.0 916.0 445.5 913.9 450.1 917.2C454.7 920.5 452.6 919.2 457.6 921.0C462.6 922.8 460.1 922.3 465.1 922.7C470.1 923.1 468.0 923.6 472.6 922.2C477.2 920.8 474.6 921.4 478.8 918.5C483.0 915.6 480.9 917.3 485.1 913.5C489.3 909.7 487.6 912.6 491.3 907.2C495.0 901.8 493.0 903.1 496.3 897.3C499.6 891.5 498.4 893.0 501.3 889.8C504.2 886.6 502.1 887.4 505.0 887.8C507.9 888.2 506.7 887.0 510.0 891.0C513.3 895.0 511.7 893.1 515.0 899.8C518.3 906.5 516.7 903.5 520.0 911.0C523.3 918.5 522.5 915.9 525.0 922.2C527.5 928.5 524.6 924.9 527.5 930.0C530.4 935.1 529.1 934.2 533.7 937.5C538.3 940.8 536.2 937.9 541.2 940.0C546.2 942.1 543.7 941.2 548.7 943.7C553.7 946.2 551.1 945.3 556.1 947.4C561.1 949.5 558.6 948.2 563.6 949.9C568.6 951.6 566.1 950.1 571.1 952.4C576.1 954.7 573.6 953.7 578.6 956.9C583.6 960.1 581.5 959.4 586.1 961.9C590.7 964.4 588.2 964.6 592.3 964.4C596.4 964.2 594.5 964.8 598.5 961.2C602.5 957.6 600.6 959.4 604.2 953.5C607.8 947.6 605.6 950.6 609.2 943.5C612.8 936.4 611.3 940.0 614.9 932.3C618.5 924.6 616.6 928.4 619.9 920.5C623.2 912.6 621.2 914.2 624.9 908.5C628.6 902.8 627.0 903.5 631.1 903.5C635.2 903.5 633.1 905.6 637.3 908.5C641.5 911.4 639.4 911.4 643.6 912.2C647.8 913.0 645.7 913.9 649.8 911.0C653.9 908.1 652.3 908.9 656.0 903.5C659.7 898.1 657.7 899.4 661.0 894.8C664.3 890.2 662.7 893.6 666.0 889.8C669.3 886.0 667.7 886.8 671.0 883.5C674.3 880.2 673.1 880.2 676.0 879.8C678.9 879.4 676.8 878.1 679.7 882.3C682.6 886.5 681.4 885.2 684.7 892.3C688.0 899.4 686.4 896.9 689.7 903.5C693.0 910.1 691.4 908.5 694.7 912.2C698.0 915.9 698.0 913.9 699.7 914.7"/>
<path class="cv" stroke="#c04fa2" stroke-width="6.0" d="M211.0 852.4C212.7 850.3 211.9 849.3 216.0 846.1C220.1 842.9 218.4 842.9 223.4 842.9C228.4 842.9 225.5 843.6 230.9 846.1C236.3 848.6 234.2 850.0 239.6 850.4C245.0 850.8 242.5 851.3 247.1 847.4C251.7 843.5 249.2 843.0 253.4 838.7C257.6 834.4 255.5 835.7 259.6 834.4C263.7 833.1 261.6 832.6 265.8 834.9C270.0 837.2 267.9 836.2 272.1 841.2C276.3 846.2 274.2 845.3 278.3 849.9C282.4 854.5 279.9 852.2 284.5 854.9C289.1 857.6 287.0 857.9 292.0 857.9C297.0 857.9 294.5 858.0 299.5 854.9C304.5 851.8 302.0 853.6 307.0 848.6C312.0 843.6 309.5 845.7 314.5 839.9C319.5 834.1 317.3 836.2 321.9 831.2C326.5 826.2 324.4 827.2 328.2 824.9C332.0 822.6 329.9 825.4 333.2 824.4C336.5 823.4 334.5 821.3 338.2 821.9C341.9 822.5 339.8 821.9 344.4 826.2C349.0 830.5 347.3 827.8 351.9 834.9C356.5 842.0 354.0 839.1 358.1 847.4C362.2 855.7 360.1 852.0 364.3 859.9C368.5 867.8 366.8 864.5 370.6 871.1C374.4 877.7 372.3 875.7 375.6 879.8C378.9 883.9 376.9 883.5 380.6 883.5C384.3 883.5 383.1 884.4 386.8 879.8C390.5 875.2 388.5 877.3 391.8 869.8C395.1 862.3 393.5 867.4 396.8 857.4C400.1 847.4 399.4 848.2 401.8 839.9C404.2 831.6 401.6 838.2 404.0 832.4C406.4 826.6 405.3 827.8 409.0 822.4C412.7 817.0 410.6 818.8 415.2 816.2C419.8 813.6 418.1 814.2 422.7 814.5C427.3 814.8 424.7 813.5 428.9 817.0C433.1 820.5 431.0 818.5 435.2 824.9C439.4 831.3 437.3 828.7 441.4 836.2C445.5 843.7 443.4 840.8 447.6 847.4C451.8 854.0 449.7 851.9 453.9 856.1C458.1 860.3 456.4 858.2 460.1 859.9C463.8 861.6 461.4 861.9 465.1 861.1C468.8 860.3 466.7 860.3 471.3 857.4C475.9 854.5 474.2 856.2 478.8 852.4C483.4 848.6 480.9 851.1 485.1 846.1C489.3 841.1 487.6 843.6 491.3 837.4C495.0 831.2 493.0 833.9 496.3 827.4C499.6 820.9 498.0 822.1 501.3 818.0C504.6 813.9 503.0 815.3 506.3 815.0C509.6 814.7 507.9 813.7 511.2 817.0C514.5 820.3 512.9 818.1 516.2 824.9C519.5 831.7 517.9 829.1 521.2 837.4C524.5 845.7 522.9 842.8 526.2 849.9C529.5 857.0 527.9 853.5 531.2 858.6C534.5 863.7 532.5 862.4 536.2 865.3C539.9 868.2 538.2 864.5 542.4 867.3C546.6 870.1 544.1 869.0 548.7 873.6C553.3 878.2 551.1 876.7 556.1 881.1C561.1 885.5 558.6 884.1 563.6 886.8C568.6 889.5 567.4 889.1 571.1 889.3C574.8 889.5 571.5 886.5 574.8 887.3C578.1 888.1 576.5 890.0 581.1 891.8C585.7 893.6 583.6 893.1 588.6 892.8C593.6 892.5 591.4 893.7 596.0 891.0C600.6 888.3 598.5 890.2 602.3 884.8C606.1 879.4 604.1 882.3 607.3 874.8C610.5 867.3 609.5 869.5 612.0 862.4C614.5 855.3 612.3 859.9 614.9 853.6C617.5 847.3 616.6 849.8 619.9 843.6C623.2 837.4 621.2 838.6 624.9 834.9C628.6 831.2 627.0 832.0 631.1 832.4C635.2 832.8 633.1 833.7 637.3 836.2C641.5 838.7 639.4 838.2 643.6 839.9C647.8 841.6 645.7 842.4 649.8 841.2C653.9 840.0 652.3 840.8 656.0 836.2C659.7 831.6 657.7 833.2 661.0 827.4C664.3 821.6 662.7 824.5 666.0 818.7C669.3 812.9 667.7 814.6 671.0 810.0C674.3 805.4 673.1 806.8 676.0 805.0C678.9 803.2 676.8 802.8 679.7 804.5C682.6 806.2 681.8 806.1 684.7 810.0C687.6 813.9 686.0 811.2 688.5 816.2C691.0 821.2 689.3 821.6 692.2 824.9C695.1 828.2 694.3 824.1 697.2 826.2C700.1 828.3 698.0 829.8 700.9 831.2C703.8 832.6 704.2 830.7 705.9 830.4"/>
<path class="cv" stroke="#84862c" stroke-width="6.0" d="M210.5 787.8C211.9 784.7 211.6 784.6 214.7 778.6C217.8 772.6 216.0 773.8 219.7 769.9C223.4 766.0 221.7 766.5 225.9 766.9C230.1 767.3 228.0 768.0 232.2 771.1C236.4 774.2 234.3 773.2 238.4 776.1C242.5 779.0 240.9 781.9 244.6 779.8C248.3 777.7 246.3 778.6 249.6 769.9C252.9 761.2 251.7 761.9 254.6 753.6C257.5 745.3 255.9 748.2 258.4 744.9C260.9 741.6 259.6 741.6 262.1 743.7C264.6 745.8 262.9 744.6 265.8 751.2C268.7 757.8 267.0 756.5 270.8 763.6C274.6 770.7 273.4 767.0 277.1 772.4C280.8 777.8 279.1 774.4 282.0 779.8C284.9 785.2 283.3 783.6 285.8 788.6C288.3 793.6 287.0 792.3 289.5 794.8C292.0 797.3 290.4 797.7 293.3 796.0C296.2 794.3 295.4 796.0 298.3 789.8C301.2 783.6 299.5 783.1 302.0 777.3C304.5 771.5 302.8 774.7 305.7 772.4C308.6 770.1 307.4 771.4 310.7 770.4C314.0 769.4 312.8 769.6 315.7 769.4C318.6 769.2 317.0 771.8 319.5 769.9C322.0 768.0 320.7 768.6 323.2 763.6C325.7 758.6 324.4 760.7 326.9 754.9C329.4 749.1 328.2 750.4 330.7 746.2C333.2 742.0 331.9 742.4 334.4 742.4C336.9 742.4 335.3 741.6 338.2 746.2C341.1 750.8 339.8 749.5 343.1 756.1C346.4 762.7 344.8 759.0 348.1 766.1C351.4 773.2 350.2 771.5 353.1 777.3C356.0 783.1 354.4 780.7 356.9 783.6C359.4 786.5 357.7 782.0 360.6 786.1C363.5 790.2 362.3 789.4 365.6 796.0C368.9 802.6 367.7 801.7 370.6 806.0C373.5 810.3 371.4 809.7 374.3 809.0C377.2 808.3 376.4 805.0 379.3 803.8C382.2 802.6 380.2 804.8 383.1 805.5C386.0 806.2 384.7 809.6 388.0 806.0C391.3 802.4 390.1 804.4 393.0 794.8C395.9 785.2 394.3 788.9 396.8 777.3C399.3 765.7 398.1 769.3 400.5 759.9C402.9 750.5 401.6 755.7 404.0 749.0C406.4 742.3 405.2 744.6 407.7 739.9C410.2 735.2 408.6 734.5 411.5 734.9C414.4 735.3 413.2 736.6 416.5 741.2C419.8 745.8 417.8 743.7 421.5 748.7C425.2 753.7 424.4 755.3 427.7 756.1C431.0 756.9 428.9 753.7 431.4 751.2C433.9 748.7 432.3 747.9 435.2 748.7C438.1 749.5 436.9 748.2 440.2 753.6C443.5 759.0 441.9 760.3 445.2 764.9C448.5 769.5 446.8 764.9 450.1 767.4C453.4 769.9 451.8 767.8 455.1 772.4C458.4 777.0 456.8 775.7 460.1 781.1C463.4 786.5 462.0 785.3 465.1 788.6C468.2 791.9 466.4 792.8 469.3 791.1C472.2 789.4 470.6 788.4 473.8 783.6C477.0 778.8 475.0 779.3 478.8 776.8C482.6 774.3 481.4 778.0 485.1 776.1C488.8 774.2 486.7 775.7 490.0 771.1C493.3 766.5 491.7 769.5 495.0 762.4C498.3 755.3 496.7 757.8 500.0 749.9C503.3 742.0 502.1 743.4 505.0 738.7C507.9 734.0 506.2 734.9 508.7 735.7C511.2 736.5 510.0 734.8 512.5 741.2C515.0 747.6 513.7 745.8 516.2 754.9C518.7 764.0 517.5 759.9 520.0 768.6C522.5 777.3 520.8 774.4 523.7 781.1C526.6 787.8 525.0 784.9 528.7 788.6C532.4 792.3 531.2 789.8 534.9 792.3C538.6 794.8 536.1 793.1 539.9 796.0C543.7 798.9 542.5 797.7 546.2 801.0C549.9 804.3 547.8 803.2 551.1 806.0C554.4 808.8 552.8 810.3 556.1 809.5C559.4 808.7 557.8 806.6 561.1 803.5C564.4 800.4 562.8 801.5 566.1 800.3C569.4 799.1 567.4 799.3 571.1 799.8C574.8 800.3 573.6 799.3 577.3 801.8C581.0 804.3 578.9 803.6 582.3 807.3C585.7 811.0 584.1 812.2 587.4 813.0C590.7 813.8 588.6 810.5 592.3 809.8C596.0 809.1 594.8 812.7 598.6 811.0C602.4 809.3 600.3 811.6 603.6 804.8C606.9 798.0 605.3 799.7 608.6 790.5C611.9 781.3 610.3 786.3 613.6 777.3C616.9 768.3 615.3 769.4 618.6 763.6C621.9 757.8 620.3 759.9 623.6 759.9C626.9 759.9 625.3 762.6 628.6 763.6C631.9 764.6 630.3 761.2 633.6 762.9C636.9 764.6 635.3 764.8 638.6 768.6C641.9 772.4 640.7 771.6 643.6 774.3C646.5 777.0 644.8 778.7 647.3 776.8C649.8 774.9 648.2 775.5 651.1 768.6C654.0 761.7 652.7 763.6 656.0 756.1C659.3 748.6 657.7 751.6 661.0 746.2C664.3 740.8 662.7 743.0 666.0 739.9C669.3 736.8 667.7 739.8 671.0 736.9C674.3 734.0 673.1 734.5 676.0 731.2C678.9 727.9 677.2 728.7 679.7 727.0C682.2 725.3 681.0 724.0 683.5 726.2C686.0 728.4 684.7 727.0 687.2 733.7C689.7 740.4 688.5 737.1 691.0 746.2C693.5 755.3 691.8 752.4 694.7 761.1C697.6 769.8 696.4 764.5 699.7 772.4C703.0 780.3 703.0 780.7 704.7 784.8"/>
<g class="ax" stroke-width="3.9">
<rect x="149.3" y="700.6" width="625.4000000000001" height="510.9999999999999"/>
<line x1="201.4" y1="1211.6" x2="201.4" y2="1202.3" stroke-width="3.9"/>
<line x1="253.5" y1="1211.6" x2="253.5" y2="1194.3999999999999" stroke-width="3.9"/>
<line x1="305.5" y1="1211.6" x2="305.5" y2="1202.3" stroke-width="3.9"/>
<line x1="357.6" y1="1211.6" x2="357.6" y2="1194.3999999999999" stroke-width="3.9"/>
<line x1="409.7" y1="1211.6" x2="409.7" y2="1202.3" stroke-width="3.9"/>
<line x1="461.8" y1="1211.6" x2="461.8" y2="1194.3999999999999" stroke-width="3.9"/>
<line x1="513.8" y1="1211.6" x2="513.8" y2="1202.3" stroke-width="3.9"/>
<line x1="565.9" y1="1211.6" x2="565.9" y2="1194.3999999999999" stroke-width="3.9"/>
<line x1="618.0" y1="1211.6" x2="618.0" y2="1202.3" stroke-width="3.9"/>
<line x1="670.0" y1="1211.6" x2="670.0" y2="1194.3999999999999" stroke-width="3.9"/>
<line x1="722.1" y1="1211.6" x2="722.1" y2="1202.3" stroke-width="3.9"/>
<line x1="149.3" y1="1175.1" x2="159.10000000000002" y2="1175.1" stroke-width="3.9"/>
<line x1="149.3" y1="1138.6" x2="167.10000000000002" y2="1138.6" stroke-width="3.9"/>
<line x1="149.3" y1="1102.1" x2="159.10000000000002" y2="1102.1" stroke-width="3.9"/>
<line x1="149.3" y1="1065.6" x2="167.10000000000002" y2="1065.6" stroke-width="3.9"/>
<line x1="149.3" y1="1029.1" x2="159.10000000000002" y2="1029.1" stroke-width="3.9"/>
<line x1="149.3" y1="992.6" x2="167.10000000000002" y2="992.6" stroke-width="3.9"/>
<line x1="149.3" y1="956.1" x2="159.10000000000002" y2="956.1" stroke-width="3.9"/>
<line x1="149.3" y1="919.6" x2="167.10000000000002" y2="919.6" stroke-width="3.9"/>
<line x1="149.3" y1="883.1" x2="159.10000000000002" y2="883.1" stroke-width="3.9"/>
<line x1="149.3" y1="846.6" x2="167.10000000000002" y2="846.6" stroke-width="3.9"/>
<line x1="149.3" y1="810.1" x2="159.10000000000002" y2="810.1" stroke-width="3.9"/>
<line x1="149.3" y1="773.6" x2="167.10000000000002" y2="773.6" stroke-width="3.9"/>
<line x1="149.3" y1="737.1" x2="159.10000000000002" y2="737.1" stroke-width="3.9"/>
</g>
<text transform="translate(74.54,1221.73) scale(1.0445,1)" font-size="37.46">-50</text>
<text transform="translate(109.35,1148.73) scale(1.0445,1)" font-size="37.46">0</text>
<text transform="translate(87.64,1075.73) scale(1.0445,1)" font-size="37.46">50</text>
<text transform="translate(65.83,1002.73) scale(1.0445,1)" font-size="37.46">100</text>
<text transform="translate(65.83,929.73) scale(1.0445,1)" font-size="37.46">150</text>
<text transform="translate(65.83,856.73) scale(1.0445,1)" font-size="37.46">200</text>
<text transform="translate(65.83,783.73) scale(1.0445,1)" font-size="37.46">250</text>
<text transform="translate(65.83,710.73) scale(1.0445,1)" font-size="37.46">300</text>
<text transform="translate(138.66,1260.01) scale(1.0191,1)" font-size="38.85">0</text>
<text transform="translate(242.96,1260.01) scale(1.0191,1)" font-size="38.85">3</text>
<text transform="translate(346.86,1260.01) scale(1.0191,1)" font-size="38.85">6</text>
<text transform="translate(451.11,1260.01) scale(1.0191,1)" font-size="38.85">9</text>
<text transform="translate(543.83,1260.40) scale(1.0191,1)" font-size="38.85">12</text>
<text transform="translate(647.78,1260.01) scale(1.0191,1)" font-size="38.85">15</text>
<text transform="translate(751.98,1260.01) scale(1.0191,1)" font-size="38.85">18</text>
<text transform="translate(420.24,1308.19) scale(1.0036,1)" font-size="45.36">H (T)</text>
<text transform="translate(177.25,746.10) scale(1.0205,1)" font-size="40.00">(b)</text>
<text transform="translate(696.69,760.94) scale(0.9861,1)" font-size="35.76">0.2K</text>
<text transform="translate(697.09,859.54) scale(0.9861,1)" font-size="35.76">0.4K</text>
<text transform="translate(695.29,942.94) scale(0.9861,1)" font-size="35.76">0.8K</text>
<text transform="translate(697.26,1028.50) scale(0.9861,1)" font-size="35.76">1.4K</text>
<text transform="translate(697.84,1106.44) scale(0.9861,1)" font-size="35.76">2.5K</text>
<text transform="translate(696.41,1168.44) scale(0.9861,1)" font-size="35.76">4.0K</text>
<g transform="rotate(-90)">
<text class="se" transform="translate(-981.87,42.60) scale(1.0898,1)" font-size="40.91">Δ</text>
<text transform="translate(-956.17,42.60) scale(1.0018,1)" font-size="46.84">R</text>
<text transform="translate(-911.09,43.06) scale(0.9466,1)" font-size="52.23">(</text>
<text class="se" transform="translate(-894.65,43.50) scale(1.0352,1)" font-size="43.32">Ω</text>
<text transform="translate(-860.57,43.06) scale(0.9466,1)" font-size="52.23">)</text>
</g>
<line x1="427.2" y1="1203" x2="427.2" y2="1170" stroke="#000" stroke-width="1.2"/>
<rect x="379.7" y="1175.0" width="88.9" height="3.4" fill="#c4c4c4" stroke="#000" stroke-width="1.4"/>
<path d="M427.2 1157.4 L422.7 1174.5 L431.7 1174.5 Z" fill="#000"/>
<text transform="translate(484.53,1189.20) scale(1.0094,1)" font-size="39.27">H</text>
</svg></body></html>
